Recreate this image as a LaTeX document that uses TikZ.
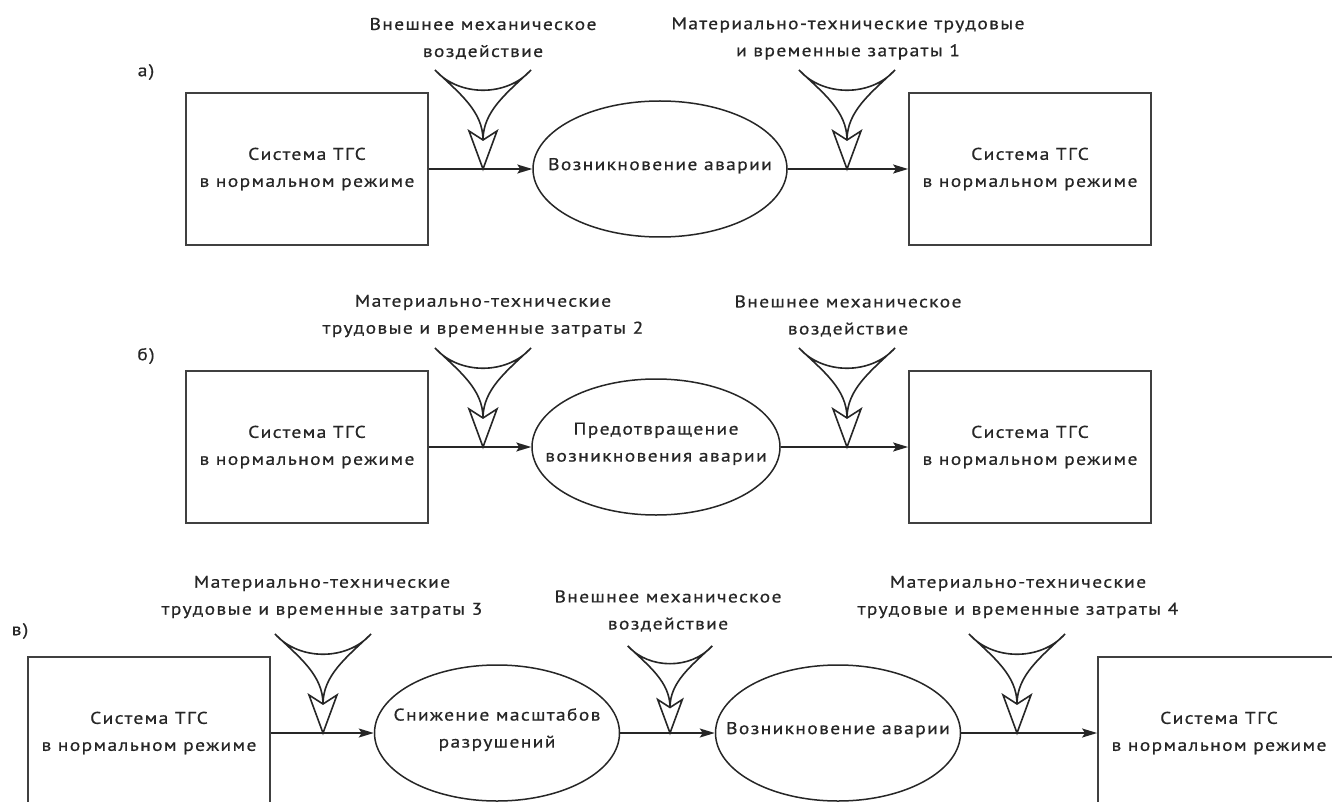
\documentclass[tikz,border=0pt]{standalone}
\usepackage{fontspec}
\setmainfont{PT Sans}[FakeStretch=1.15, LetterSpace=8, FakeBold=0.6]
\usetikzlibrary{arrows.meta,shapes.geometric}
\newcommand\diagfont{\fontsize{17}{27}\selectfont}
% text of fixed-size ellipses: takes no room, so the ellipse keeps its given size
\newcommand\ellt[1]{\makebox[0pt]{\raisebox{0pt}[0pt][0pt]{\begin{tabular}{@{}c@{}}#1\end{tabular}}}}
\begin{document}
\begin{tikzpicture}[x=1pt,y=-1pt,
  boxnode/.style={draw=black!75, line width=1.8pt, minimum width=242pt, minimum height=152pt, inner sep=0pt, align=center, font=\diagfont, text=black!85},
  ellnode/.style={ellipse, draw=black!85, line width=1.5pt, minimum width=254pt, minimum height=136pt, inner sep=0pt, font=\diagfont, text=black!85},
  conn/.style={line width=1.6pt, draw=black!85, -{Stealth[length=15pt,width=9pt,inset=3pt]}},
  lbl/.style={align=center, font=\diagfont, text=black!85, inner sep=0pt},
  funnelline/.style={line width=1.6pt, draw=black!85, line join=miter},
  funnel/.pic={
    \draw[funnelline] (-48,-99) .. controls (-24,-72) and (24,-72) .. (48,-99)
        .. controls (24,-76) and (0,-58) .. (0,-29)
        .. controls (0,-58) and (-24,-76) .. (-48,-99) -- cycle;
    \draw[funnelline] (0,-29) -- (-14,-38) -- (0,0) -- (14,-38) -- cycle;
  }
]
\useasboundingbox (0,0) rectangle (1332,802);
\fill[white] (0,0) rectangle (1332,802);
\clip (0,0) rectangle (1332,802);

% ---------- row a ----------
\node[lbl] (la) at (146,72) {а)};
\node[boxnode] (a1) at (307,169) {Система ТГС\\в нормальном режиме};
\node[ellnode] (ae) at (660,169) {\ellt{Возникновение аварии}};
\node[boxnode] (a2) at (1030,169) {Система ТГС\\в нормальном режиме};
\draw[conn] (a1.east) -- (ae.west);
\draw[conn] (ae.east) -- (a2.west);
\pic at (483,169) {funnel};
\pic at (847,169) {funnel};
\node[lbl] (ta1) at (483,38.5) {Внешнее механическое\\воздействие};
\node[lbl] (ta2) at (848,38.5) {Материально-технические трудовые\\и временные затраты 1};

% ---------- row b ----------
\node[lbl] (lb) at (146,356) {б)};
\node[boxnode] (b1) at (307,447) {Система ТГС\\в нормальном режиме};
\node[ellnode, minimum width=248pt] (be) at (656,447) {\ellt{Предотвращение\\возникновения аварии}};
\node[boxnode] (b2) at (1030,447) {Система ТГС\\в нормальном режиме};
\draw[conn] (b1.east) -- (be.west);
\draw[conn] (be.east) -- (b2.west);
\pic at (483,447) {funnel};
\pic at (847,447) {funnel};
\node[lbl] (tb1) at (483,316) {Материально-технические\\трудовые и временные затраты 2};
\node[lbl] (tb2) at (848,316) {Внешнее механическое\\воздействие};

% ---------- row c ----------
\node[lbl] (lc) at (20,631) {в)};
\node[boxnode] (c1) at (149,733) {Система ТГС\\в нормальном режиме};
\node[ellnode, minimum width=245pt] (ce1) at (497,733) {\ellt{Снижение масштабов\\разрушений}};
\node[ellnode, minimum width=245pt] (ce2) at (838,733) {\ellt{Возникновение аварии}};
\node[boxnode] (c2) at (1219,733) {Система ТГС\\в нормальном режиме};
\draw[conn] (c1.east) -- (ce1.west);
\draw[conn] (ce1.east) -- (ce2.west);
\draw[conn] (ce2.east) -- (c2.west);
\pic at (323,733) {funnel};
\pic[scale=0.88] at (670,733) {funnel};
\pic at (1017,733) {funnel};
\node[lbl] (tc1) at (322,597) {Материально-технические\\трудовые и временные затраты 3};
\node[lbl] (tc2) at (668,611) {Внешнее механическое\\воздействие};
\node[lbl] (tc3) at (1018,597) {Материально-технические\\трудовые и временные затраты 4};
\end{tikzpicture}
\end{document}
